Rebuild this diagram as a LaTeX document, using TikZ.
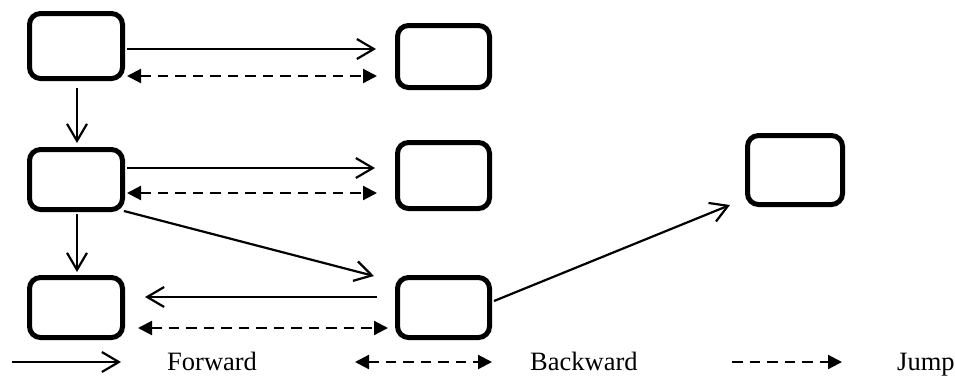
\documentclass[tikz,border=0pt]{standalone}
\usepackage{fontspec}
\setmainfont{Liberation Serif}
\usetikzlibrary{arrows.meta,calc}
\begin{document}
\begin{tikzpicture}[x=1pt,y=-1pt,
  box/.style={draw,line width=5pt,rounded corners=11pt,inner sep=0pt,fill=white},
  fwd/.style={line width=2.2pt,-{Straight Barb[length=17pt,width=20pt,line width=2.2pt]}},
  bwd/.style={line width=2.2pt,dash pattern=on 10.5pt off 7pt,{Triangle[length=14pt,width=14pt]}-{Triangle[length=14pt,width=14pt]}},
  jmp/.style={line width=2.2pt,dash pattern=on 10.5pt off 7pt,-{Triangle[length=14pt,width=14pt]}},
  lbl/.style={font=\fontsize{26.5}{30}\selectfont,anchor=base west,inner sep=0pt}]
\useasboundingbox (0,0) rectangle (955,376);
% boxes
\node[box,minimum width=93pt,minimum height=65pt] (A) at (76,46) {};
\node[box,minimum width=92pt,minimum height=62pt] (B) at (443.5,56.5) {};
\node[box,minimum width=93pt,minimum height=60pt] (C) at (76,179.5) {};
\node[box,minimum width=92pt,minimum height=66pt] (D) at (443.5,175.5) {};
\node[box,minimum width=93pt,minimum height=60pt] (E) at (76,307.5) {};
\node[box,minimum width=92pt,minimum height=60pt] (F) at (443.5,307.5) {};
\node[box,minimum width=95pt,minimum height=69pt] (G) at (795,170) {};
% row 1
\draw[fwd] ($(A.east)+(2,3)$) -- ($(B.west)+(-19,-7.5)$);
\draw[bwd] ($(A.east)+(2,30)$) -- ($(B.west)+(-18,19.5)$);
\draw[fwd] ($(A.south)+(1,7)$) -- ($(C.north)+(1,-4)$);
% row 2
\draw[fwd] ($(C.east)+(2,-11.5)$) -- ($(D.west)+(-20,-7.5)$);
\draw[bwd] ($(C.east)+(2,13.5)$) -- ($(D.west)+(-18,17.5)$);
\draw[fwd] ($(C.south east)+(-1,-1)$) -- ($(F.north west)+(-21,1)$);
\draw[fwd] ($(C.south)+(1,2)$) -- ($(E.north)+(1,-3)$);
% row 3
\draw[fwd] ($(F.west)+(-18,-10.5)$) -- ($(E.east)+(20,-10.5)$);
\draw[bwd] ($(E.east)+(13,20.5)$) -- ($(F.west)+(-7,20.5)$);
\draw[fwd] ($(F.east)+(2,-6.5)$) -- ($(G.south west)+(-15,-2)$);
% legend
\coordinate (l1a) at (12,362);
\coordinate (l1b) at (121,362);
\coordinate (l2a) at (355,362);
\coordinate (l2b) at (492,362);
\coordinate (l3a) at (732,362);
\coordinate (l3b) at (842,362);
\draw[fwd] (l1a) -- (l1b);
\draw[bwd] (l2a) -- (l2b);
\draw[jmp] (l3a) -- (l3b);
\node[lbl] (t1) at (167,370) {Forward};
\node[lbl] (t2) at (530,370) {Backward};
\node[lbl] (t3) at (897,370) {Jump};
\end{tikzpicture}
\end{document}
